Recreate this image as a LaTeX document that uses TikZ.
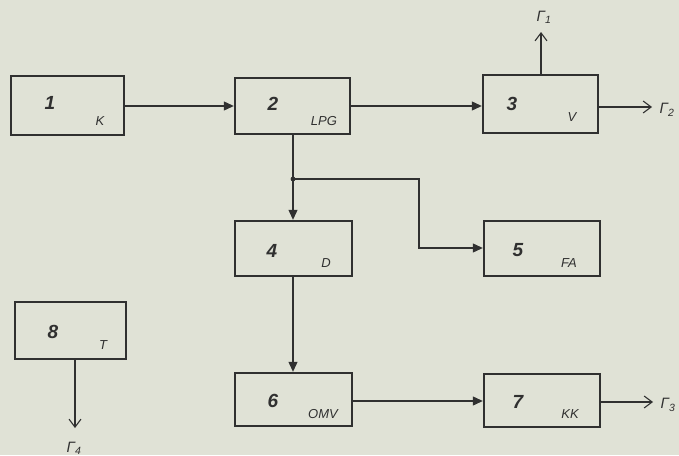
\documentclass[tikz,border=0pt]{standalone}
\usepackage{fontspec}
\setmainfont{Liberation Sans}
\usetikzlibrary{arrows.meta}
\definecolor{paper}{HTML}{E0E2D6}
\definecolor{ink}{HTML}{303030}
\begin{document}
\begin{tikzpicture}[x=1pt,y=-1pt,
  blk/.style={draw=ink,line width=2.4pt,rectangle,minimum width=117pt,minimum height=58pt,inner sep=0pt},
  num/.style={font=\itshape\bfseries\fontsize{19}{19}\selectfont,text=ink},
  tag/.style={font=\itshape\fontsize{13}{13}\selectfont,text=ink},
  gam/.style={font=\itshape\fontsize{15}{15}\selectfont,text=ink},
  conn/.style={draw=ink,line width=1.1pt},
  inarr/.style={conn,-{Triangle[length=10pt,width=9pt]}},
  outarr/.style={conn,-{Straight Barb[length=8pt,width=12pt,line width=1.1pt]}}]
\fill[paper] (0,0) rectangle (679,455);
\useasboundingbox (0,0) rectangle (679,455);
% boxes
\node[blk,minimum width=113pt,minimum height=59pt] (b1) at (67.5,105.5) {};
\node[blk,minimum width=115pt,minimum height=56pt] (b2) at (292.5,106) {};
\node[blk,minimum width=115pt,minimum height=58pt] (b3) at (540.5,104) {};
\node[blk,minimum width=117pt,minimum height=55pt] (b4) at (293.5,248.5) {};
\node[blk,minimum width=116pt,minimum height=55pt] (b5) at (542,248.5) {};
\node[blk,minimum width=111pt,minimum height=57pt] (b8) at (70.5,330.5) {};
\node[blk,minimum width=117pt,minimum height=53pt] (b6) at (293.5,399.5) {};
\node[blk,minimum width=116pt,minimum height=53pt] (b7) at (542,400.5) {};
% texts
\node[num] (n1) at (50,103) {1};
\node[tag] (t1) at (100,121) {K};
\node[num] (n2) at (273,104) {2};
\node[tag] (t2) at (324,121) {LPG};
\node[num] (n3) at (512,104) {3};
\node[tag] (t3) at (572,117) {V};
\node[num] (n4) at (272,251) {4};
\node[tag] (t4) at (326,263) {D};
\node[num] (n5) at (518,250) {5};
\node[tag] (t5) at (569,263) {FA};
\node[num] (n8) at (53,332) {8};
\node[tag] (t8) at (103,345) {T};
\node[num] (n6) at (273,401) {6};
\node[tag] (t6) at (323,414) {OMV};
\node[num] (n7) at (518,402) {7};
\node[tag] (t7) at (570,414) {KK};
% free ends
\coordinate (g1) at (541,32);
\coordinate (g2) at (652,107);
\coordinate (g3) at (653,402);
\coordinate (g4) at (75,428);
\coordinate (j) at (293,179);
\coordinate (k) at (419,179);
\node[gam] (l1) at (544,17) {Γ\textsubscript{1}};
\node[gam,anchor=west] (l2) at (656,110) {Γ\textsubscript{2}};
\node[gam,anchor=west] (l3) at (657,405) {Γ\textsubscript{3}};
\node[gam] (l4) at (74,448) {Γ\textsubscript{4}};
% connectors
\draw[inarr] (b1.east |- 0,106) -- (b2.west |- 0,106);
\draw[inarr] (b2.east |- 0,106) -- (b3.west |- 0,106);
\draw[outarr] (b3.north -| g1) -- (g1);
\draw[outarr] (b3.east |- g2) -- (g2);
\draw[inarr] (b2.south -| j) -- (b4.north -| j);
\fill[ink] (j) circle (2.4pt);
\draw[inarr] (j) -- (k) -- (k |- 0,248) -- (b5.west |- 0,248);
\draw[inarr] (b4.south -| j) -- (b6.north -| j);
\draw[inarr] (b6.east |- 0,401) -- (b7.west |- 0,401);
\draw[outarr] (b7.east |- g3) -- (g3);
\draw[outarr] (b8.south -| g4) -- (g4);
\end{tikzpicture}
\end{document}
